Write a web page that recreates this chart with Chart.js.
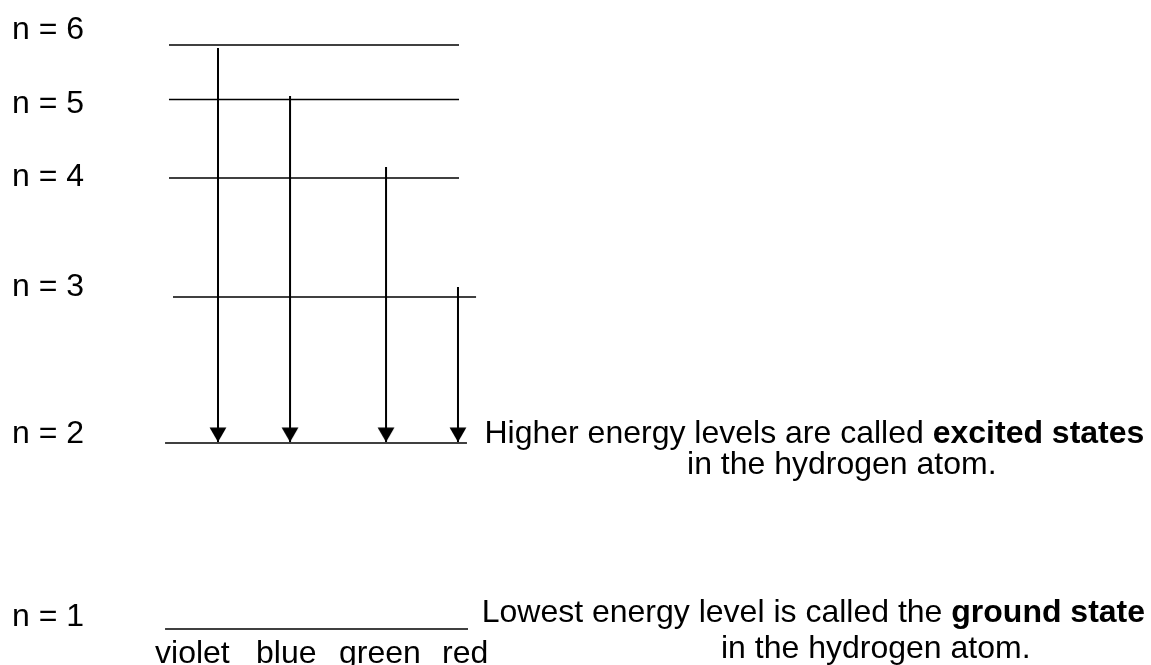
<!DOCTYPE html>
<html>
<head>
<meta charset="utf-8">
<script src="https://cdn.jsdelivr.net/npm/chart.js@4.4.1/dist/chart.umd.min.js"></script>
<style>
html, body { margin: 0; padding: 0; background: #fff; overflow: hidden; }
#wrap { width: 1151px; height: 665px; position: relative; }
canvas { display: block; }
</style>
</head>
<body>
<div id="wrap"><canvas id="c" width="1151" height="665"></canvas></div>
<script>
// ---- Energy levels (schematic diagram height, arbitrary units 0-100) ----
const levelN = [1, 2, 3, 4, 5, 6];
const levelLabels = ['n = 1', 'n = 2', 'n = 3', 'n = 4', 'n = 5', 'n = 6'];
const levelHeight = [5.41, 33.38, 55.34, 73.23, 85.04, 93.23];
const levelStart = [14.34, 14.34, 15.03, 14.68, 14.68, 14.68];
const levelEnd = [40.66, 40.57, 41.36, 39.88, 39.88, 39.88];
const labelBaseline = [5.86, 33.38, 55.49, 72.03, 83.01, 94.14];

// ---- Balmer transitions (down to n = 2) ----
const lineNames = ['violet', 'blue', 'green', 'red'];
const lineFrom = [6, 5, 4, 3];
const lineX = [18.94, 25.20, 33.54, 39.79];
const lineTop = [92.78, 85.56, 74.89, 56.84];
const lineTip = [33.53, 33.53, 33.53, 33.53];
const nameX = [13.47, 22.24, 29.45, 38.40];
const nameBaseline = 0.30;

// ---- Text notes ----
const noteExcited1 = [['Higher energy levels are called ', false], ['excited states', true]];
const noteExcited2 = [['in the hydrogen atom.', false]];
const noteGround1 = [['Lowest energy level is called the ', false], ['ground state', true]];
const noteGround2 = [['in the hydrogen atom.', false]];

// layout for notes (diagram units)
const notes = [
  { parts: noteExcited1, x: 42.09, y: 33.38 },
  { parts: noteExcited2, x: 59.69, y: 28.72 },
  { parts: noteGround1, x: 41.85, y: 6.47 },
  { parts: noteGround2, x: 62.64, y: 1.05 }
];

const FONT = '"Liberation Sans", Arial, Helvetica, sans-serif';
const FONT_SIZE = 32;

// arrowhead image: apex at the image centre, pointing down
function makeArrowHead() {
  const c = document.createElement('canvas');
  c.width = 18; c.height = 30;
  const g = c.getContext('2d');
  g.fillStyle = '#000';
  g.beginPath();
  g.moveTo(0.6, 0.5);
  g.lineTo(17.4, 0.5);
  g.lineTo(9, 15);
  g.closePath();
  g.fill();
  return c;
}
const arrowHead = makeArrowHead();

const datasets = [];
levelN.forEach((n, i) => {
  datasets.push({
    label: levelLabels[i],
    data: [{ x: levelStart[i], y: levelHeight[i] }, { x: levelEnd[i], y: levelHeight[i] }],
    borderColor: '#000',
    borderWidth: 1.7,
    pointRadius: 0,
    fill: false,
    tension: 0
  });
});
lineNames.forEach((name, i) => {
  datasets.push({
    label: name + ' (n=' + lineFrom[i] + ' \u2192 n=2)',
    data: [{ x: lineX[i], y: lineTop[i] }, { x: lineX[i], y: lineTip[i] }],
    borderColor: '#000',
    borderWidth: 2,
    pointRadius: [0, 5],
    pointHoverRadius: [0, 5],
    pointStyle: arrowHead,
    fill: false,
    tension: 0
  });
});

function drawParts(ctx, parts, x, y, size) {
  ctx.save();
  ctx.fillStyle = '#000';
  ctx.textBaseline = 'alphabetic';
  ctx.textAlign = 'left';
  let cx = x;
  parts.forEach(([t, bold]) => {
    ctx.font = (bold ? 'bold ' : '') + size + 'px ' + FONT;
    ctx.fillText(t, cx, y);
    cx += ctx.measureText(t).width;
  });
  ctx.restore();
}

const textPlugin = {
  id: 'diagramText',
  afterDatasetsDraw(chart) {
    const ctx = chart.ctx;
    const xs = chart.scales.x, ys = chart.scales.y;
    levelLabels.forEach((lab, i) => {
      drawParts(ctx, [[lab, false]], xs.getPixelForValue(1.04), ys.getPixelForValue(labelBaseline[i]), FONT_SIZE);
    });
    notes.forEach(nt => {
      drawParts(ctx, nt.parts, xs.getPixelForValue(nt.x), ys.getPixelForValue(nt.y), FONT_SIZE);
    });
    lineNames.forEach((name, i) => {
      drawParts(ctx, [[name, false]], xs.getPixelForValue(nameX[i]), ys.getPixelForValue(nameBaseline), FONT_SIZE);
    });
  }
};

new Chart(document.getElementById('c'), {
  type: 'line',
  data: { datasets },
  options: {
    responsive: false,
    animation: false,
    events: [],
    layout: { padding: 0, autoPadding: false },
    plugins: { legend: { display: false }, tooltip: { enabled: false } },
    scales: {
      x: { type: 'linear', min: 0, max: 100, display: false },
      y: { type: 'linear', min: 0, max: 100, display: false }
    }
  },
  plugins: [textPlugin]
});
</script>
</body>
</html>
